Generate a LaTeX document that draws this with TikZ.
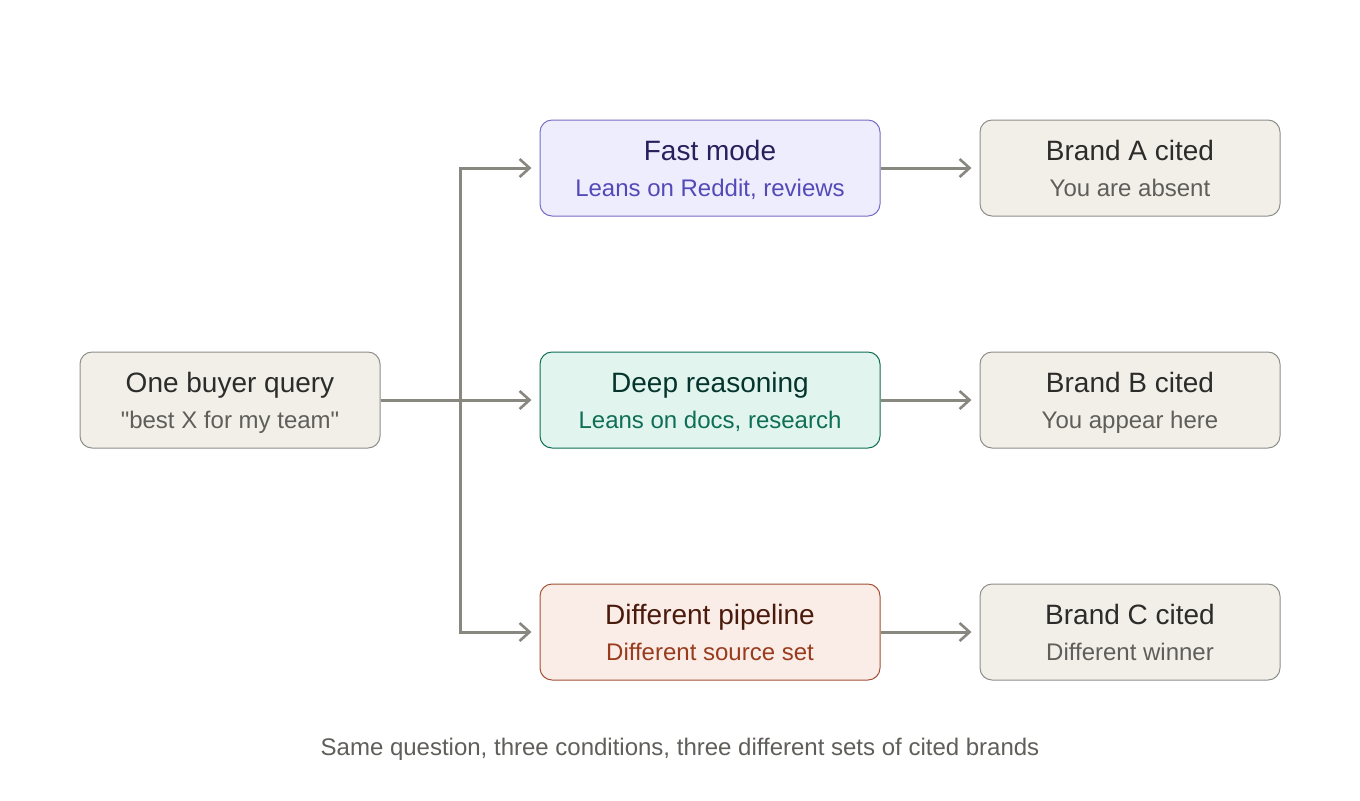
\documentclass[tikz,border=0pt]{standalone}
\usepackage{fontspec}
\setmainfont{Liberation Sans}[Ligatures=TeXOff]
\usetikzlibrary{arrows.meta}
\definecolor{grayfill}{HTML}{F1EFE8}
\definecolor{graybord}{HTML}{5F5E5A}
\definecolor{graytitle}{HTML}{2C2C2A}
\definecolor{graysub}{HTML}{5F5E5A}
\definecolor{purfill}{HTML}{EEEDFE}
\definecolor{purbord}{HTML}{534AB7}
\definecolor{purtitle}{HTML}{26215C}
\definecolor{pursub}{HTML}{534AB7}
\definecolor{tealfill}{HTML}{E1F5EE}
\definecolor{tealbord}{HTML}{0F6E56}
\definecolor{tealtitle}{HTML}{04342C}
\definecolor{tealsub}{HTML}{0F6E56}
\definecolor{corfill}{HTML}{FAECE7}
\definecolor{corbord}{HTML}{993C1D}
\definecolor{cortitle}{HTML}{4A1B0C}
\definecolor{corsub}{HTML}{993C1D}
\definecolor{arrowcol}{HTML}{888780}
\tikzset{
  box/.style={draw, rounded corners=6pt, line width=0.5pt, minimum height=48pt, inner sep=0pt},
  smallbox/.style={box, minimum width=150pt},
  midbox/.style={box, minimum width=170pt},
  ttl/.style={anchor=base, font=\fontsize{14pt}{16pt}\selectfont, inner sep=0pt},
  sub/.style={anchor=base, font=\fontsize{12pt}{14pt}\selectfont, inner sep=0pt},
  conn/.style={draw=arrowcol, line width=1.5pt, -{Straight Barb[length=5pt,width=9pt,line width=1.3pt]}, shorten >=4pt},
}
\begin{document}
\begin{tikzpicture}[x=0.5pt,y=-0.5pt]
\useasboundingbox (0,0) rectangle (1360,800);
\fill[white] (0,0) rectangle (1360,800);

% left
\node[smallbox, draw=graybord!70, fill=grayfill] (q) at (230,400) {};
\node[ttl, text=graytitle] (qt) at (230,392) {One buyer query};
\node[sub, text=graysub] (qs) at (230,428) {"best X for my team"};

% middle
\node[midbox, draw=purbord!80, fill=purfill] (fast) at (710,168) {};
\node[ttl, text=purtitle] (fastt) at (710,160) {Fast mode};
\node[sub, text=pursub] (fasts) at (710,196) {Leans on Reddit, reviews};

\node[midbox, draw=tealbord, fill=tealfill] (deep) at (710,400) {};
\node[ttl, text=tealtitle] (deept) at (710,392) {Deep reasoning};
\node[sub, text=tealsub] (deeps) at (710,428) {Leans on docs, research};

\node[midbox, draw=corbord!90, fill=corfill] (pipe) at (710,632) {};
\node[ttl, text=cortitle] (pipet) at (710,624) {Different pipeline};
\node[sub, text=corsub] (pipes) at (710,660) {Different source set};

% right
\node[smallbox, draw=graybord!70, fill=grayfill] (ba) at (1130,168) {};
\node[ttl, text=graytitle] (bat) at (1130,160) {Brand A cited};
\node[sub, text=graysub] (bas) at (1130,196) {You are absent};

\node[smallbox, draw=graybord!70, fill=grayfill] (bb) at (1130,400) {};
\node[ttl, text=graytitle] (bbt) at (1130,392) {Brand B cited};
\node[sub, text=graysub] (bbs) at (1130,428) {You appear here};

\node[smallbox, draw=graybord!70, fill=grayfill] (bc) at (1130,632) {};
\node[ttl, text=graytitle] (bct) at (1130,624) {Brand C cited};
\node[sub, text=graysub] (bcs) at (1130,660) {Different winner};

% connectors
\coordinate (trunk) at (460,400);
\draw[conn] (q.east) -- (trunk) |- (fast.west);
\draw[conn] (q.east) -- (deep.west);
\draw[conn] (q.east) -- (trunk) |- (pipe.west);
\draw[conn] (fast.east) -- (ba.west);
\draw[conn] (deep.east) -- (bb.west);
\draw[conn] (pipe.east) -- (bc.west);

% caption
\node[sub, text=graysub] (cap) at (680,755) {Same question, three conditions, three different sets of cited brands};
\end{tikzpicture}
\end{document}
